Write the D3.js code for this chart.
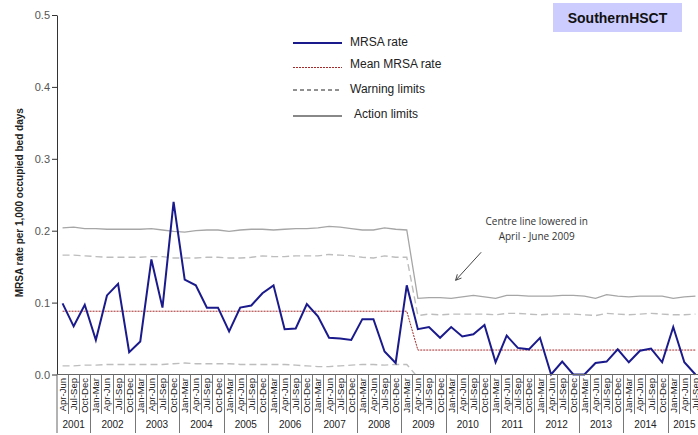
<!DOCTYPE html>
<html>
<head>
<meta charset="utf-8">
<script src="https://cdn.jsdelivr.net/npm/d3@7"></script>
<style>
  body { margin: 0; background: #fff; }
  svg { display: block; font-family: "Liberation Sans", Arial, sans-serif; }
</style>
</head>
<body>
<script>
// Quarter labels and year groups
var quarters = ["Apr-Jun", "Jul-Sep", "Oct-Dec"];
var years = ["2001", "2002", "2003", "2004", "2005", "2006", "2007", "2008",
  "2009", "2010", "2011", "2012", "2013", "2014", "2015"];
var quarterNames = ["Jan-Mar", "Apr-Jun", "Jul-Sep", "Oct-Dec"];
var yearQuarterCount = [3, 4, 4, 4, 4, 4, 4, 4, 4, 4, 4, 4, 4, 4, 3];

// MRSA rate per 1,000 occupied bed days, Apr-Jun 2001 .. Jul-Sep 2015
var mrsaRate = [0.099, 0.067, 0.097, 0.048, 0.110, 0.126, 0.031, 0.046, 0.160, 0.093,
  0.240, 0.132, 0.124, 0.093, 0.093, 0.060, 0.093, 0.096, 0.113, 0.124,
  0.063, 0.064, 0.098, 0.081, 0.051, 0.050, 0.048, 0.077, 0.077, 0.032,
  0.016, 0.124, 0.063, 0.066, 0.051, 0.066, 0.053, 0.056, 0.069, 0.017,
  0.054, 0.037, 0.035, 0.051, 0.000, 0.018, 0.000, 0.000, 0.016, 0.018,
  0.035, 0.017, 0.033, 0.036, 0.017, 0.066, 0.017, 0.000];

var meanRate = [0.088, 0.088, 0.088, 0.088, 0.088, 0.088, 0.088, 0.088, 0.088, 0.088,
  0.088, 0.088, 0.088, 0.088, 0.088, 0.088, 0.088, 0.088, 0.088, 0.088,
  0.088, 0.088, 0.088, 0.088, 0.088, 0.088, 0.088, 0.088, 0.088, 0.088,
  0.088, 0.088, 0.034, 0.034, 0.034, 0.034, 0.034, 0.034, 0.034, 0.034,
  0.034, 0.034, 0.034, 0.034, 0.034, 0.034, 0.034, 0.034, 0.034, 0.034,
  0.034, 0.034, 0.034, 0.034, 0.034, 0.034, 0.034, 0.034];

var warningUpper = [0.166, 0.166, 0.165, 0.164, 0.163, 0.163, 0.163, 0.163, 0.164, 0.164,
  0.162, 0.162, 0.162, 0.163, 0.163, 0.162, 0.162, 0.163, 0.165, 0.164,
  0.164, 0.165, 0.165, 0.165, 0.167, 0.166, 0.165, 0.163, 0.162, 0.165,
  0.163, 0.163, 0.082, 0.084, 0.083, 0.084, 0.084, 0.084, 0.084, 0.083,
  0.085, 0.085, 0.084, 0.083, 0.084, 0.084, 0.084, 0.083, 0.082, 0.085,
  0.084, 0.083, 0.084, 0.085, 0.084, 0.083, 0.083, 0.084];

var warningLower = [0.012, 0.012, 0.013, 0.013, 0.014, 0.014, 0.014, 0.014, 0.014, 0.014,
  0.015, 0.016, 0.015, 0.015, 0.015, 0.015, 0.014, 0.014, 0.014, 0.014,
  0.014, 0.013, 0.012, 0.011, 0.011, 0.012, 0.013, 0.014, 0.014, 0.013,
  0.014, 0.014, -0.004, -0.004, -0.004, -0.004, -0.004, -0.004, -0.004, -0.004,
  -0.004, -0.004, -0.004, -0.004, -0.004, -0.004, -0.004, -0.004, -0.004, -0.004,
  -0.004, -0.004, -0.004, -0.004, -0.004, -0.004, -0.004, -0.004];

var actionUpper = [0.204, 0.205, 0.203, 0.203, 0.202, 0.202, 0.202, 0.202, 0.203, 0.201,
  0.199, 0.198, 0.200, 0.201, 0.201, 0.199, 0.201, 0.202, 0.202, 0.201,
  0.202, 0.203, 0.203, 0.204, 0.206, 0.205, 0.203, 0.201, 0.201, 0.204,
  0.202, 0.201, 0.106, 0.107, 0.107, 0.106, 0.108, 0.110, 0.108, 0.106,
  0.110, 0.110, 0.109, 0.109, 0.109, 0.110, 0.110, 0.109, 0.106, 0.111,
  0.109, 0.108, 0.109, 0.109, 0.109, 0.106, 0.108, 0.109];

var yTicks = [0, 0.1, 0.2, 0.3, 0.4, 0.5];

// build the category list from the year groups
var categories = [];
years.forEach(function (yr, k) {
  var names = k === 0 ? quarters : quarterNames.slice(0, yearQuarterCount[k]);
  names.forEach(function (q) { categories.push({ q: q, year: yr }); });
});

var svgWidth = 698;
var svgHeight = 435;
var plot = { left: 57, right: 701, top: 15, bottom: 374.5 };

var svg = d3.select("body")
  .append("svg")
  .attr("width", svgWidth)
  .attr("height", svgHeight);

var x = d3.scaleBand()
  .domain(d3.range(categories.length))
  .range([plot.left, plot.right])
  .padding(0);

// continuous version of the category axis, for the annotation
var xPos = d3.scaleLinear()
  .domain([0, categories.length])
  .range([plot.left, plot.right]);

var y = d3.scaleLinear()
  .domain([0, 0.5])
  .range([plot.bottom, plot.top]);

var xc = function (i) { return x(i) + x.bandwidth() / 2; };

svg.append("clipPath").attr("id", "plotclip")
  .append("rect")
  .attr("x", plot.left).attr("y", plot.top)
  .attr("width", plot.right - plot.left)
  .attr("height", plot.bottom - plot.top);

var chartGroup = svg.append("g").attr("clip-path", "url(#plotclip)");

var lineOf = function (arr) {
  return d3.line().x(function (d, i) { return xc(i); }).y(function (d) { return y(d); })(arr);
};

// action limits
chartGroup.append("path")
  .attr("d", lineOf(actionUpper))
  .attr("fill", "none").attr("stroke", "#a6a6a6").attr("stroke-width", 1.3);

// warning limits
[warningUpper, warningLower].forEach(function (arr) {
  chartGroup.append("path")
    .attr("d", lineOf(arr))
    .attr("fill", "none").attr("stroke", "#bdbdbd").attr("stroke-width", 1.4)
    .attr("stroke-dasharray", "7,4");
});

// mean line
chartGroup.append("path")
  .attr("d", lineOf(meanRate))
  .attr("fill", "none").attr("stroke", "#a52a2a").attr("stroke-width", 1)
  .attr("stroke-dasharray", "2,1");

// MRSA rate
svg.append("path")
  .attr("d", lineOf(mrsaRate))
  .attr("fill", "none").attr("stroke", "#1a1a8c").attr("stroke-width", 2)
  .attr("stroke-linejoin", "miter");

// y axis
var leftAxis = d3.axisLeft(y).tickValues(yTicks).tickFormat(d3.format(".1f")).tickSize(5).tickSizeOuter(0);
var yAxisG = svg.append("g")
  .attr("transform", "translate(" + plot.left + ",0)")
  .call(leftAxis);
yAxisG.select(".domain").attr("stroke", "#333");
yAxisG.selectAll(".tick line").attr("stroke", "#333");
yAxisG.selectAll(".tick text")
  .attr("font-family", "Liberation Sans, Arial, sans-serif")
  .attr("font-size", "11px").attr("fill", "#555").attr("x", -7);

// x axis line and category separators
svg.append("line")
  .attr("x1", plot.left).attr("x2", plot.right)
  .attr("y1", plot.bottom).attr("y2", plot.bottom)
  .attr("stroke", "#666").attr("stroke-width", 1);

svg.append("line")
  .attr("x1", plot.left).attr("x2", plot.left)
  .attr("y1", plot.bottom).attr("y2", 433)
  .attr("stroke", "#666");

var yearStart = {};
categories.forEach(function (c, i) {
  if (yearStart[c.year] === undefined) yearStart[c.year] = i;
});

svg.selectAll(".qsep")
  .data(d3.range(1, categories.length))
  .enter().append("line")
  .attr("x1", function (i) { return Math.round(x(i)) + 0.5; })
  .attr("x2", function (i) { return Math.round(x(i)) + 0.5; })
  .attr("y1", plot.bottom)
  .attr("y2", function (i) { return categories[i].q === "Jan-Mar" ? 433 : 414; })
  .attr("stroke", "#777").attr("stroke-width", 1);

svg.selectAll(".qlabel")
  .data(categories)
  .enter().append("text")
  .attr("transform", function (d, i) { return "translate(" + (xc(i) + 3.5) + ",378) rotate(-90)"; })
  .attr("text-anchor", "end")
  .attr("font-size", "9.5px")
  .attr("fill", "#222")
  .text(function (d) { return d.q; });

svg.selectAll(".ylabel")
  .data(years)
  .enter().append("text")
  .attr("x", function (yr, k) {
    var s = yearStart[yr];
    return (x(s) + x(s + yearQuarterCount[k] - 1) + x.bandwidth()) / 2;
  })
  .attr("y", 428)
  .attr("text-anchor", "middle")
  .attr("font-size", "10px")
  .attr("fill", "#222")
  .text(function (d) { return d; });

// y axis title
svg.append("text")
  .attr("transform", "rotate(-90)")
  .attr("x", -(plot.top + plot.bottom) / 2 - 8)
  .attr("y", 23)
  .attr("text-anchor", "middle")
  .attr("font-size", "10px")
  .attr("font-weight", "bold")
  .attr("fill", "#222")
  .text("MRSA rate per 1,000 occupied bed days");

// title box
svg.append("rect")
  .attr("x", 553).attr("y", 3).attr("width", 129).attr("height", 29)
  .attr("fill", "#ccccff");
svg.append("text")
  .attr("x", 617.5).attr("y", 23)
  .attr("text-anchor", "middle")
  .attr("font-size", "14px").attr("font-weight", "bold").attr("fill", "#111")
  .text("SouthernHSCT");

// legend
var legendItems = [
  { label: "MRSA rate", color: "#1a1a8c", width: 2, dash: null, y: 43, ty: 42, tx: 350 },
  { label: "Mean MRSA rate", color: "#a52a2a", width: 1, dash: "2,1", y: 67.5, ty: 64, tx: 350 },
  { label: "Warning limits", color: "#222", width: 1, dash: "4,3", y: 90, ty: 89, tx: 350 },
  { label: "Action limits", color: "#888", width: 2, dash: null, y: 116, ty: 113.5, tx: 354 }
];
var legend = svg.append("g");
legendItems.forEach(function (it) {
  legend.append("line")
    .attr("x1", 293).attr("x2", 342)
    .attr("y1", it.y).attr("y2", it.y)
    .attr("stroke", it.color).attr("stroke-width", it.width)
    .attr("stroke-dasharray", it.dash);
  legend.append("text")
    .attr("x", it.tx).attr("y", it.ty)
    .attr("dy", "0.35em")
    .attr("font-size", "12px").attr("fill", "#222")
    .text(it.label);
});

// annotation
svg.append("defs").append("marker")
  .attr("id", "arrow")
  .attr("viewBox", "0 0 10 10")
  .attr("refX", 9).attr("refY", 5)
  .attr("markerWidth", 7).attr("markerHeight", 7)
  .attr("orient", "auto")
  .append("path")
  .attr("d", "M1,1 L9,5 L1,9")
  .attr("fill", "none").attr("stroke", "#444").attr("stroke-width", 1.3);

svg.append("line")
  .attr("x1", xPos(38.2)).attr("y1", y(0.170))
  .attr("x2", xPos(35.9)).attr("y2", y(0.131))
  .attr("stroke", "#444").attr("stroke-width", 1)
  .attr("marker-end", "url(#arrow)");

var noteX = xPos(43.2);
var note = svg.append("text")
  .attr("text-anchor", "middle")
  .attr("font-family", "Open Sans, sans-serif")
  .attr("font-size", "10px").attr("fill", "#333");
note.append("tspan").attr("x", noteX).attr("y", 225).text("Centre line lowered in");
note.append("tspan").attr("x", noteX).attr("y", 239.5).text("April - June 2009");
</script>
</body>
</html>
